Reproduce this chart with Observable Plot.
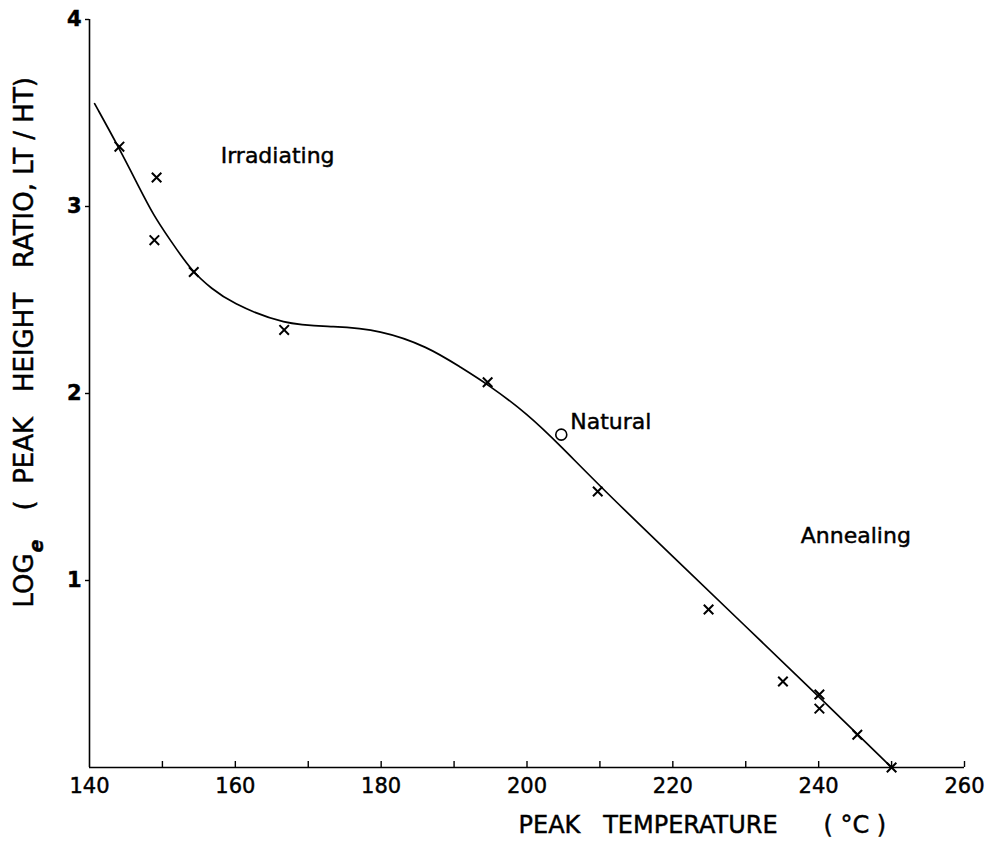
<!DOCTYPE html>
<html>
<head>
<meta charset="utf-8">
<script src="https://cdn.jsdelivr.net/npm/d3@7"></script>
<script src="https://cdn.jsdelivr.net/npm/@observablehq/plot@0.6"></script>
<style>
  html, body { margin: 0; padding: 0; background: #fff; }
  #chart svg { display: block; }
  /* slightly heavier lettering */
  #chart svg text { stroke: #000; stroke-width: 0.45px; }
</style>
</head>
<body>
<div id="chart"></div>
<script>
// Measured peaks (crosses): peak temperature (°C) and log_e of the LT/HT peak-height ratio
const crossTemp  = [144.1, 149.2, 148.9, 154.3, 166.7, 194.6, 209.7, 224.9, 235.1, 240.1, 240.1, 245.3, 250.0];
const crossRatio = [3.32, 3.155, 2.82, 2.65, 2.34, 2.06, 1.476, 0.845, 0.46, 0.39, 0.315, 0.175, 0.0];

// Natural sample (open circle)
const naturalTemp  = [204.7];
const naturalRatio = [1.78];

// Hand-drawn trend curve through the points
const curveTemp  = [140.7, 144.0, 146.8, 148.8, 150.9, 154.1, 156.8, 159.3, 166.7, 173.5, 179.9, 186.4, 190.9, 194.6, 200.1, 204.6, 210.1, 220.0, 230.0, 240.0, 250.0];
const curveRatio = [3.55, 3.317, 3.103, 2.952, 2.83, 2.649, 2.56, 2.488, 2.365, 2.36, 2.34, 2.25, 2.14, 2.05, 1.89, 1.72, 1.50, 1.128, 0.754, 0.38, 0.0];

// Region labels
const regionNames = ["Irradiating", "Annealing"];
const regionTemp  = [165.8, 245.1];
const regionRatio = [3.27, 1.24];
const naturalLabel = "Natural";

// Axis ticks
const xLabelTicks = [140, 160, 180, 200, 220, 240, 260];
const xMinorTicks = [150, 160, 170, 180, 190, 200, 210, 220, 230, 240, 250, 260];
const yLabelTicks = [1, 2, 3, 4];

const crosses = crossTemp.map((t, i) => ({t, r: crossRatio[i]}));
const natural = naturalTemp.map((t, i) => ({t, r: naturalRatio[i]}));
const curve = curveTemp.map((t, i) => ({t, r: curveRatio[i]}));
const regions = regionNames.map((name, i) => ({name, t: regionTemp[i], r: regionRatio[i]}));

const W = 993, H = 846;
const M = {top: 19, right: 29, bottom: 79, left: 89};
const frameH = H - M.top - M.bottom;

const font = "DejaVu Sans, Verdana, sans-serif";

const chart = Plot.plot({
  width: W,
  height: H,
  marginTop: M.top,
  marginRight: M.right,
  marginBottom: M.bottom,
  marginLeft: M.left,
  style: {fontFamily: font, fontSize: "21px", color: "#000", background: "#fff", overflow: "visible"},
  x: {domain: [140, 260]},
  y: {domain: [0, 4]},
  marks: [
    // axis lines
    Plot.ruleX([140], {stroke: "#000", strokeWidth: 1.6}),
    Plot.ruleY([0], {stroke: "#000", strokeWidth: 1.6}),
    // inward minor ticks on the temperature axis
    Plot.tickX(xMinorTicks, {x: d => d, stroke: "#000", strokeWidth: 1.4, insetTop: frameH - 6}),
    Plot.axisX({ticks: xLabelTicks, tickSize: 0, tickPadding: 11, fontSize: 21, label: null, tickFormat: d => String(d)}),
    Plot.axisY({ticks: yLabelTicks, tickSize: 4, tickPadding: 4, fontSize: 21, fontWeight: "bold", label: null, strokeWidth: 1.4, tickFormat: d => String(d)}),
    // trend curve (smoothed through the traced points)
    Plot.line(curve, {x: "t", y: "r", curve: "basis", stroke: "#000", strokeWidth: 1.7}),
    // measured points
    Plot.dot(crosses, {x: "t", y: "r", symbol: "times", r: 4.4, stroke: "#000", strokeWidth: 2}),
    Plot.dot(natural, {x: "t", y: "r", symbol: "circle", r: 5.5, stroke: "#000", strokeWidth: 1.6, fill: "none"}),
    // labels
    Plot.text(regions, {x: "t", y: "r", text: "name", fontSize: 22, fill: "#000"}),
    Plot.text(natural, {x: "t", y: "r", text: () => naturalLabel, fontSize: 22, fill: "#000", textAnchor: "start", dx: 9, dy: -13}),
    // axis titles
    Plot.text(["PEAK\u00a0\u00a0\u00a0TEMPERATURE\u00a0\u00a0\u00a0\u00a0\u00a0\u00a0(\u00a0°C\u00a0)"], {
      frameAnchor: "bottom-left", textAnchor: "start", dx: 429, dy: 65, fontSize: 24, fill: "#000"
    }),
    Plot.text(["LOG"], {
      frameAnchor: "bottom-left", rotate: -90, textAnchor: "start", dx: -57, dy: -160, fontSize: 26, fill: "#000"
    }),
    Plot.text(["e"], {
      frameAnchor: "bottom-left", rotate: -90, textAnchor: "start", dx: -47, dy: -215, fontSize: 19, fontWeight: "bold", fontStyle: "italic", fill: "#000"
    }),
    Plot.text(["(\u00a0\u00a0PEAK\u00a0\u00a0\u00a0HEIGHT\u00a0\u00a0\u00a0RATIO,\u00a0LT\u00a0/\u00a0HT)"], {
      frameAnchor: "bottom-left", rotate: -90, textAnchor: "start", dx: -57, dy: -257, fontSize: 26, fill: "#000"
    })
  ]
});

document.getElementById("chart").appendChild(chart);
</script>
</body>
</html>
